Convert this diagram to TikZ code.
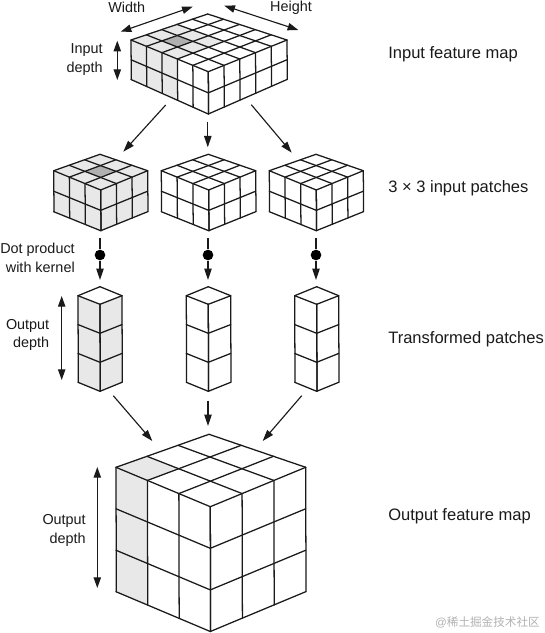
\documentclass[tikz,border=0pt]{standalone}
\usepackage{fontspec}
\setmainfont{Liberation Sans}
\newfontfamily\cjkwm{Noto Sans CJK SC}
\usetikzlibrary{calc,arrows.meta}
\definecolor{shadeA}{HTML}{E8E8E8}
\definecolor{shadeB}{HTML}{B0B0B0}
\definecolor{inkc}{HTML}{1A1A1A}
\tikzset{
  gridline/.style={draw=inkc,line width=0.95pt,line join=round,line cap=round},
  flow/.style={draw=inkc,line width=0.85pt,-{Triangle[length=8.5pt,width=5.5pt]}},
  both/.style={draw=inkc,line width=0.85pt,{Triangle[length=8pt,width=5.5pt]}-{Triangle[length=8pt,width=5.5pt]}},
  small/.style={font=\fontsize{10.8}{14}\selectfont,inner sep=0pt,align=right,text=inkc},
  caption/.style={font=\fontsize{12.4}{15}\selectfont,inner sep=0pt,anchor=west,text=inkc},
  dotnode/.style={circle,fill=black,minimum size=8pt,inner sep=0pt},
}
% #1 columns per side, #2 rows, #3 shaded left-face columns, #4 shaded top cells per side,
% #5 1 if the middle top cell is dark
\newcommand{\isoblock}[5]{%
  \foreach \i in {0,...,#1}{\foreach \j in {0,...,#1}{%
    \coordinate (T-\i-\j) at ($($(L)!\i/#1!(F)$)!\j/#1!($(B)!\i/#1!(R)$)$);
  }}
  \foreach \i in {0,...,#1}{%
    \coordinate (LU-\i) at ($(L)!\i/#1!(F)$);
    \coordinate (LD-\i) at ($(LB)!\i/#1!(FB)+(0.3,0)$);
    \coordinate (RU-\i) at ($(F)!\i/#1!(R)$);
    \coordinate (RD-\i) at ($(FB)!\i/#1!(RB)+(0.3,0)$);
  }
  \ifnum#3>0
    \fill[shadeA] (L) -- (LU-#3) -- (LD-#3) -- (LB) -- cycle;
  \fi
  \ifnum#4>0
    \fill[shadeA] (T-0-0) -- (T-#4-0) -- (T-#4-#4) -- (T-0-#4) -- cycle;
  \fi
  \ifnum#5>0
    \fill[shadeB] (T-1-1) -- (T-2-1) -- (T-2-2) -- (T-1-2) -- cycle;
  \fi
  \foreach \i in {0,...,#1}{%
    \draw[gridline] (T-\i-0) -- (T-\i-#1);
    \draw[gridline] (T-0-\i) -- (T-#1-\i);
    \draw[gridline] (LU-\i) -- (LD-\i);
    \draw[gridline] (RU-\i) -- (RD-\i);
  }
  \foreach \t in {1,...,#2}{%
    \draw[gridline] ($(L)!\t/#2!(LB)$) -- ($(F)!\t/#2!(FB)$) -- ($(R)!\t/#2!(RB)$);
  }
}
\newcommand{\setcorners}[4]{%
  \coordinate (L) at (#1); \coordinate (B) at (#2);
  \coordinate (R) at (#3); \coordinate (F) at (#4);
}
\newcommand{\setbottoms}[3]{%
  \coordinate (LB) at (#1); \coordinate (FB) at (#2); \coordinate (RB) at (#3);
}
\newcommand{\shaderight}{\fill[shadeA] (F) -- (R) -- (RB) -- (FB) -- cycle;}
\begin{document}
\begin{tikzpicture}[x=0.75pt,y=-0.75pt]
\useasboundingbox (0,0) rectangle (544,633);
\fill[white] (0,0) rectangle (544,633);

% input map
\setcorners{131,40}{207.7,14}{287,40}{208.3,71.7}
\setbottoms{131,79.5}{208.3,114}{287,79.5}
\isoblock{5}{2}{3}{3}{1}

% patches
\setcorners{53.7,170.7}{100,154.3}{147.7,170.7}{100.7,190}
\setbottoms{53.7,211.7}{100.7,230.7}{147.7,211.7}
\shaderight
\isoblock{3}{2}{3}{3}{1}
\setcorners{161.3,170.7}{208.3,154.3}{255.7,170.7}{208.7,190}
\setbottoms{161.3,211.7}{208.7,230.7}{255.7,211.7}
\isoblock{3}{2}{0}{0}{0}
\setcorners{269.3,170.7}{316,154.3}{363.3,170.7}{316.3,190}
\setbottoms{269.3,211.7}{316.3,230.7}{363.3,211.7}
\isoblock{3}{2}{0}{0}{0}

% transformed patches
\setcorners{78,295.7}{100,286.7}{122,295.7}{100,304.3}
\setbottoms{78,382.3}{100,391.3}{122,382.3}
\shaderight
\isoblock{1}{3}{1}{0}{0}
\setcorners{186.3,295.7}{208.3,286.7}{230.7,295.7}{208.3,304.3}
\setbottoms{186.3,382.3}{208.3,391.3}{230.7,382.3}
\isoblock{1}{3}{0}{0}{0}
\setcorners{294.7,295.7}{316.7,286.7}{338.7,295.7}{316.7,304.3}
\setbottoms{294.7,382.3}{316.7,391.3}{338.7,382.3}
\isoblock{1}{3}{0}{0}{0}

% output cube
\setcorners{116,467.3}{209,434.3}{305.7,467.3}{210.3,506.7}
\setbottoms{116,591.7}{210.3,631.5}{305.7,591.7}
\isoblock{3}{3}{1}{1}{0}

% connector ends
\coordinate (mapoutA) at (165.7,105);  \coordinate (patchinA) at (123.3,151.7);
\coordinate (mapoutB) at (207.8,122);  \coordinate (patchinB) at (207.8,147.3);
\coordinate (mapoutC) at (251.3,104.7);\coordinate (patchinC) at (291.7,152.7);
\coordinate (patchoutA) at (100,238.3);\coordinate (colinA) at (100,280);
\coordinate (patchoutB) at (208,238.3);\coordinate (colinB) at (208,280);
\coordinate (patchoutC) at (316,238.3);\coordinate (colinC) at (316,280);
\node[dotnode] (dotA) at (100,255) {};
\node[dotnode] (dotB) at (208,255) {};
\node[dotnode] (dotC) at (316,255) {};
\coordinate (coloutA) at (113.3,395.7);\coordinate (cubeinA) at (152.3,441);
\coordinate (coloutB) at (208,400.7);  \coordinate (cubeinB) at (208,426);
\coordinate (coloutC) at (301.7,395.7);\coordinate (cubeinC) at (262.7,441);

\draw[flow] (mapoutA) -- (patchinA);
\draw[flow] (mapoutB) -- (patchinB);
\draw[flow] (mapoutC) -- (patchinC);
\foreach \k in {A,B,C}{%
  \draw[draw=inkc,line width=0.85pt] (patchout\k) -- (dot\k);
  \draw[flow] (dot\k) -- (colin\k);
  \draw[flow] (colout\k) -- (cubein\k);
}

% dimension arrows
\coordinate (wa) at (120.7,31.7); \coordinate (wb) at (192.7,6.7);
\coordinate (ha) at (224.3,5.7);  \coordinate (hb) at (298.3,30);
\coordinate (ida) at (117.3,40.7);\coordinate (idb) at (117.3,80);
\coordinate (oda) at (61.7,296);  \coordinate (odb) at (61.7,380);
\coordinate (oca) at (97.3,467);  \coordinate (ocb) at (97.3,588);
\draw[both] (wa) -- (wb);
\draw[both] (ha) -- (hb);
\draw[both] (ida) -- (idb);
\draw[both] (oda) -- (odb);
\draw[both] (oca) -- (ocb);

% labels
\node[small] (lwidth) at (126.7,7.5) {Width};
\node[small] (lheight) at (291,7.5) {Height};
\node[small,anchor=east] (linput) at (103,59.8) {Input\\depth};
\node[small,anchor=east] (ldot) at (75,258) {Dot product\\with kernel};
\node[small,anchor=east] (louta) at (49.5,334.8) {Output\\depth};
\node[small,anchor=east] (loutb) at (86,530.3) {Output\\depth};
\node[caption] (cap1) at (388,54.5) {Input feature map};
\node[caption] (cap2) at (388,188.5) {3 × 3 input patches};
\node[caption] (cap3) at (388,339.5) {Transformed patches};
\node[caption] (cap4) at (388,516.5) {Output feature map};
\node[inner sep=0pt,anchor=east,text=black!30,font=\fontsize{8.7}{10}\selectfont] (wm) at (540,622) {@{\cjkwm 稀土掘金技术社区}};
\end{tikzpicture}
\end{document}
